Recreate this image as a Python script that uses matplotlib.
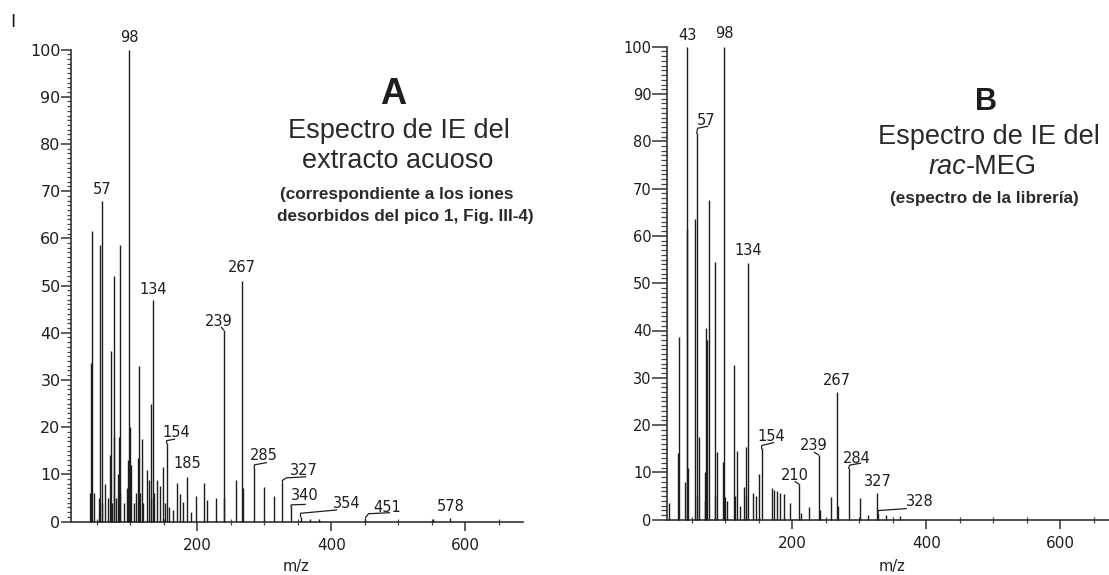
import matplotlib
matplotlib.use("Agg")
import matplotlib.pyplot as plt
from matplotlib.lines import Line2D
from matplotlib.transforms import IdentityTransform
from matplotlib.ticker import MultipleLocator, FixedLocator

W, H, DPI = 1109, 575, 100

# ---- Spectrum A: EI spectrum of the aqueous extract ----
mz_a = [39, 41, 43, 45, 53, 55, 57, 58, 62, 67, 69, 71, 72, 75, 76, 79, 81, 83, 84,
        85, 91, 95, 97, 98, 99, 101, 105, 109, 111, 113, 115, 117, 119, 124, 127,
        130, 131, 134, 135, 139, 144, 149, 151, 154, 157, 163, 170, 174, 178, 185,
        191, 198, 210, 215, 228, 239, 240, 257, 267, 268, 285, 300, 314, 327, 340,
        354, 368, 382, 451, 552, 578]
int_a = [6, 33.5, 61.5, 6, 5, 58.5, 67.8, 4, 8, 5, 14, 36.2, 4, 18, 52, 5, 10, 18, 58.5,
         6, 4, 7, 13, 100, 20, 12, 4, 6, 13.5, 33, 6, 17.5, 4, 11, 8.8,
         24.8, 5, 47, 6, 8.8, 7.6, 11.5, 4, 16.6, 3, 2.5, 8.2, 5.9, 4.2, 9.5,
         2, 5.5, 8.1, 4.6, 5, 40.6, 5, 8.8, 51, 7, 11.3, 7.4, 5.5, 8.4, 3.2,
         1.0, 0.6, 0.6, 0.8, 0.5, 0.7]
labels_a = [98, 57, 134, 267, 239, 154, 185, 285, 327, 340, 354, 451, 578]

# ---- Spectrum B: library EI spectrum of rac-MEG ----
mz_b = [15, 29, 31, 39, 42, 43, 44, 55, 57, 58, 61, 69, 70, 71, 73, 75, 84, 85, 87,
        97, 98, 99, 103, 113, 115, 117, 121, 127, 130, 131, 134, 141, 145, 150,
        154, 169, 173, 177, 181, 187, 197, 210, 213, 225, 239, 241, 257, 267,
        268, 284, 301, 313, 327, 328, 340, 360]
int_b = [3.5, 14, 38.6, 8, 61.5, 100, 11, 63.5, 81.7, 5, 17.5, 10, 4, 40.6, 38, 67.6, 5,
         54.5, 14.4, 12.3, 100, 4.9, 4, 32.7, 5, 14.5, 3, 7, 15.4, 5, 54.3, 5.6,
         5, 9.6, 15.1, 6.8, 6.3, 6.0, 5.6, 5.4, 3.5, 7.5, 1.5, 2.6, 13.7, 2, 4.9,
         26.9, 3, 10.9, 4.5, 1.0, 5.6, 1.5, 1.0, 0.8]
labels_b = [43, 98, 57, 134, 267, 154, 210, 239, 284, 327, 328]

# Peak-label placement: offset of the label centre from the peak top (pixels),
# plus an optional leader line (pixel offsets from the peak top).
place_a = {
    98: (0, 12.5, None), 57: (0, 11.5, None), 134: (0, 10.5, None),
    267: (0, 13, None), 239: (-5, 8.5, [(0, 0), (-2, 2.5)]),
    154: (10, 10.6, [(0, 0), (0, 2.5), (8, 4)]), 185: (0, 13.4, None),
    285: (9.3, 12.6, [(0, 0), (0, 3.3), (12, 5.5)]),
    327: (21.7, 11.7, [(0, 0), (0, 1.5), (4, 4), (23, 5)]),
    340: (13.3, 11.3, [(0, 0), (0, 1.5), (14, 2)]),
    354: (46, 12.8, [(0, 0), (0, 3.5), (36, 6.8)]),
    451: (21.3, 10.4, [(0, 0), (3, 4), (24, 5)]),
    578: (0, 12, None),
}
place_b = {
    43: (0, 10.7, None), 98: (0, 13.4, None),
    57: (9.3, 12.6, [(0, 0), (1, 5), (11, 7)]), 134: (0, 12, None),
    267: (0, 11.7, None), 154: (10, 11.6, [(0, 0), (0, 2.7), (12, 5.7)]),
    210: (-4.7, 8.3, [(0, 0), (-4, 2.5)]), 239: (-5, 9.3, [(0, 0), (-4, 2.5)]),
    284: (8.3, 10, [(0, 0), (1, 3), (12, 5)]), 327: (0, 11.6, None),
    328: (42, 11, [(0, 0), (0, 2), (28, 4)]),
}

INK = "#1e1e1e"
plt.rcParams["font.family"] = ["DejaVu Sans"]

fig = plt.figure(figsize=(W / DPI, H / DPI), dpi=DPI)
fig.patch.set_facecolor("white")


def add_px_axes(left, right, y0, y100):
    return fig.add_axes([left / W, 1 - y0 / H, (right - left) / W, (y0 - y100) / H])


def style_axes(ax, xlim, ylen, ysize):
    ax.set_xlim(*xlim)
    ax.set_ylim(0, 100)
    ax.patch.set_alpha(0)
    for s in ("top", "right"):
        ax.spines[s].set_visible(False)
    for s in ("left", "bottom"):
        ax.spines[s].set_color("#333333")
        ax.spines[s].set_linewidth(1.2)
    ax.spines["left"].set_bounds(0, 100)
    ax.yaxis.set_major_locator(MultipleLocator(10))
    ax.yaxis.set_minor_locator(MultipleLocator(1))
    ax.xaxis.set_major_locator(FixedLocator([200, 400, 600]))
    ax.xaxis.set_minor_locator(MultipleLocator(50))
    ax.tick_params(axis="y", which="major", direction="out", length=ylen,
                   width=1.1, pad=0.5, labelsize=ysize, colors="#333333",
                   labelcolor=INK)
    ax.tick_params(axis="y", which="minor", direction="out", length=ylen * 0.42,
                   width=0.9, colors="#444444")
    ax.tick_params(axis="x", which="major", direction="out", length=6.5,
                   width=1.1, pad=5.5, labelsize=11, colors="#333333",
                   labelcolor=INK)
    ax.tick_params(axis="x", which="minor", direction="inout", length=4.5,
                   width=0.9, colors="#444444")


def draw_spectrum(ax, mz, inten, labels, place):
    ax.vlines(mz, 0, inten, colors=INK, linewidth=1.0, clip_on=False, zorder=3)
    lookup = dict(zip(mz, inten))
    for m in labels:
        dx, dy, leader = place[m]
        v = lookup[m]
        ax.annotate(str(m), xy=(m, v), xytext=(dx, dy), textcoords="offset pixels",
                    ha="center", va="center", fontsize=10.5, color=INK)
        if leader:
            bx, by = ax.transData.transform((m, v))
            xs = [bx + p[0] for p in leader]
            ys = [by + p[1] for p in leader]
            fig.add_artist(Line2D(xs, ys, transform=IdentityTransform(),
                                  color=INK, linewidth=0.9))


# Panel A
ax_a = add_px_axes(71, 523, 521.5, 49.5)
style_axes(ax_a, (11.2, 686.3), 7.0, 11.5)
draw_spectrum(ax_a, mz_a, int_a, labels_a, place_a)

# Panel B
ax_b = add_px_axes(667, 1109, 519.7, 46.7)
style_axes(ax_b, (12.7, 672.8), 10.5, 10.5)
draw_spectrum(ax_b, mz_b, int_b, labels_b, place_b)


def ftext(x, y, s, **kw):
    fig.text(x / W, 1 - y / H, s, **kw)


HEAD = ["Liberation Sans", "DejaVu Sans"]
ftext(13, 22, "I", fontsize=13, ha="center", va="center", color=INK)

# Panel A heading
ftext(393, 104, "A", fontsize=26, fontweight="bold", family=HEAD, ha="center",
      va="baseline", color=INK)
ftext(398.5, 138.3, "Espectro de IE del", fontsize=19.5, family=HEAD, ha="center",
      va="baseline", color="#2a2a2a")
ftext(398, 168.3, "extracto acuoso", fontsize=19.5, family=HEAD, ha="center",
      va="baseline", color="#2a2a2a")
ftext(397, 199, "(correspondiente a los iones", fontsize=12.3, fontweight="bold",
      family=HEAD, ha="center", va="baseline", color="#2a2a2a")
ftext(405, 220.7, "desorbidos del pico 1, Fig. III-4)", fontsize=12.3,
      fontweight="bold", family=HEAD, ha="center", va="baseline", color="#2a2a2a")

# Panel B heading
ftext(986, 110, "B", fontsize=22, fontweight="bold", family=HEAD, ha="center",
      va="baseline", color=INK)
ftext(989, 144, "Espectro de IE del", fontsize=19.5, family=HEAD, ha="center",
      va="baseline", color="#2a2a2a")
ftext(966, 174, "rac", fontsize=19.5, family=HEAD, style="italic", ha="right",
      va="baseline", color="#2a2a2a")
ftext(966, 174, "-MEG", fontsize=19.5, family=HEAD, ha="left",
      va="baseline", color="#2a2a2a")
ftext(984, 203.3, "(espectro de la librería)", fontsize=12.3, fontweight="bold",
      family=HEAD, ha="center", va="baseline", color="#2a2a2a")

# Axis titles
ftext(296, 567, "m/z", fontsize=10.5, ha="center", va="center", color=INK)
ftext(892, 567, "m/z", fontsize=10.5, ha="center", va="center", color=INK)

fig.savefig("out.png", dpi=DPI, facecolor="white")
